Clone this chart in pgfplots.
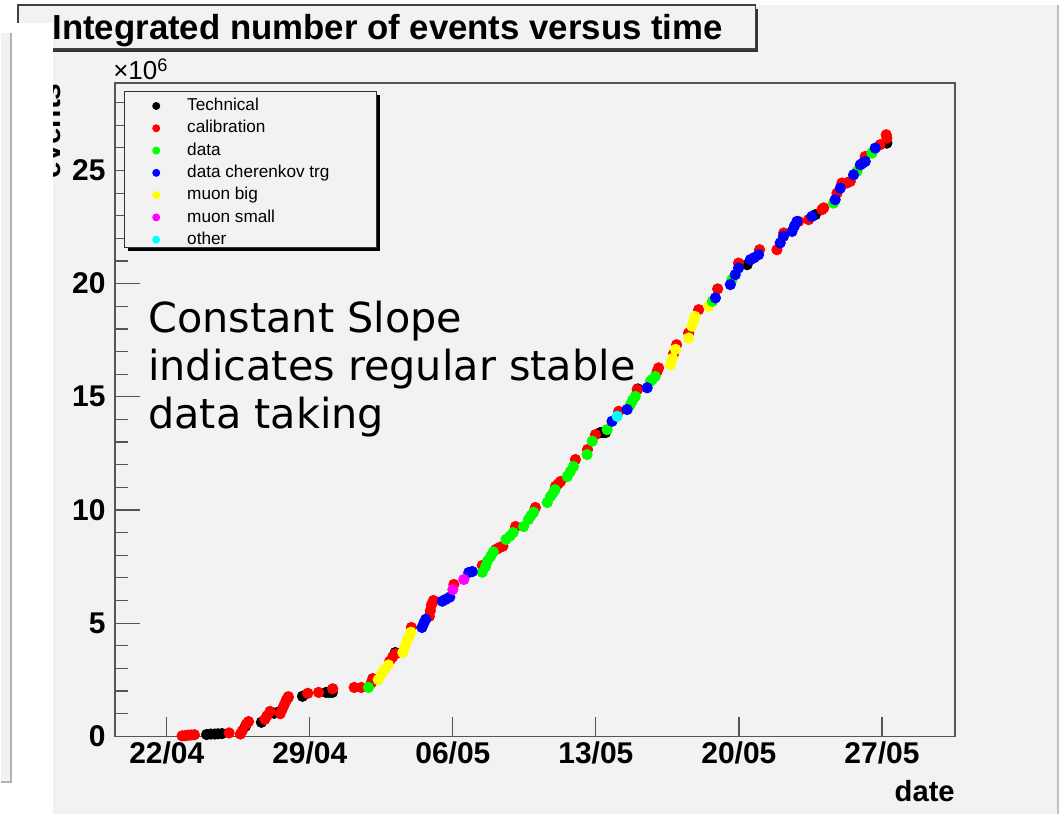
\documentclass[border=0pt]{standalone}
\usepackage{fontspec}
\setmainfont{Liberation Sans}
\newfontfamily\dejavu{DejaVu Sans}
\usepackage{pgfplots}
\pgfplotsset{compat=1.18}

\definecolor{canvas}{RGB}{242,242,242}
\definecolor{framegray}{RGB}{85,85,85}
\definecolor{rblack}{RGB}{0,0,0}
\definecolor{rred}{RGB}{255,0,0}
\definecolor{rgreen}{RGB}{0,255,0}
\definecolor{rblue}{RGB}{0,0,255}
\definecolor{ryellow}{RGB}{255,255,0}
\definecolor{rmagenta}{RGB}{255,0,255}
\definecolor{rcyan}{RGB}{0,255,255}

% x = days after 22/04, y = integrated events (x 10^6)
\pgfplotstableread{
d v
1.95 0.08
2.15 0.10
2.35 0.10
2.50 0.11
2.70 0.12
3.85 0.45
4.63 0.62
5.25 1.02
5.40 1.05
5.94 1.72
6.64 1.77
7.80 1.94
7.95 1.94
8.10 1.94
11.18 3.70
21.22 13.42
21.35 13.42
21.47 13.42
23.05 15.35
28.40 20.84
31.74 23.05
35.24 26.21
}\technical

\pgfplotstableread{
d v
0.75 0.02
0.90 0.03
1.05 0.05
1.20 0.06
1.35 0.07
3.05 0.15
3.60 0.10
3.70 0.25
3.90 0.55
4.00 0.65
4.80 0.75
4.90 0.90
5.05 1.10
5.55 1.00
5.65 1.20
5.75 1.40
5.85 1.60
5.95 1.75
6.90 1.90
7.43 1.94
8.12 2.10
9.17 2.16
9.52 2.16
10.00 2.35
10.08 2.55
10.90 3.30
11.05 3.50
11.20 3.65
11.97 4.81
12.85 5.30
12.90 5.55
12.95 5.80
13.05 6.00
14.05 6.71
15.44 7.55
16.10 8.25
16.20 8.30
16.30 8.35
16.45 8.40
17.07 9.27
18.04 10.11
19.02 11.04
19.15 11.15
19.27 11.26
20.00 12.23
20.59 12.67
20.98 13.33
22.12 14.36
23.02 15.32
24.00 16.13
24.07 16.28
24.80 16.90
24.95 17.30
25.54 17.82
26.03 18.85
26.96 19.77
27.98 20.91
29.01 21.50
29.86 21.50
30.19 22.24
30.92 22.75
31.41 22.83
32.06 23.27
32.15 23.35
32.80 24.00
33.04 24.45
33.29 24.45
33.45 24.52
34.18 25.62
34.91 26.14
35.21 26.58
35.24 26.43
}\calibration

\pgfplotstableread{
d v
9.87 2.16
15.44 7.25
15.60 7.50
15.70 7.75
15.85 7.95
15.98 8.15
16.60 8.70
16.80 8.85
16.95 9.00
17.46 9.27
17.70 9.58
17.82 9.75
17.95 9.90
18.62 10.33
18.78 10.60
18.90 10.75
19.00 10.90
19.60 11.48
19.75 11.70
19.90 11.92
20.57 12.45
20.82 13.04
21.55 13.55
22.69 14.66
22.80 14.85
22.93 15.02
23.67 15.69
23.75 15.76
23.90 15.90
26.70 19.22
27.66 20.18
32.63 23.56
33.78 24.96
34.51 25.77
}\physdata

\pgfplotstableread{
d v
12.49 4.81
12.58 5.00
12.67 5.17
13.48 5.97
13.65 6.05
13.85 6.15
14.78 7.24
14.95 7.28
21.79 13.92
22.53 14.44
23.51 15.40
26.85 19.37
27.58 19.96
27.82 20.40
27.98 20.69
28.56 21.06
28.75 21.15
28.96 21.28
30.02 21.80
30.18 22.09
30.60 22.31
30.72 22.55
30.84 22.75
31.57 22.97
32.71 23.71
32.96 24.22
33.61 24.81
33.94 25.25
34.06 25.33
34.18 25.40
34.67 25.99
}\cherenkov

\pgfplotstableread{
d v
10.35 2.50
10.50 2.75
10.65 2.95
10.85 3.15
11.55 3.70
11.65 3.95
11.75 4.20
11.85 4.40
11.95 4.60
24.65 16.42
24.75 16.70
24.90 17.10
25.54 17.60
25.70 18.12
25.78 18.35
25.85 18.55
26.52 19.00
}\muonbig

\pgfplotstableread{
d v
14.00 6.49
14.54 6.93
}\muonsmall

\pgfplotstableread{
d v
22.04 14.14
}\other

\pgfplotsset{
  roothist/.style={
    at={(57pt,-368.5pt)}, anchor=south west,
    scale only axis, width=420.5pt, height=327pt,
    xmin=-2.54, xmax=38.58, ymin=0, ymax=28.87,
  },
  evt/.style={only marks, mark=*, mark size=2.6pt, #1},
  dotleg/.style={color=#1,
    legend image code/.code={%
      \fill[#1, draw=none] (0pt,0pt) circle (2pt);
      \path[draw=none, fill=none] (-8pt,0pt) -- (8pt,0pt);}},
}

\begin{document}
\begin{tikzpicture}
\begin{scope}[x=0.5pt,y=-0.5pt]
  \useasboundingbox (0,0) rectangle (1060,815);
  \fill[white] (0,0) rectangle (1060,815);
  \fill[canvas] (17,5) rectangle (1058,815);
  \draw[black!25, line width=0.8pt] (1058,5) -- (1058,815);
  % title box
  \fill[black!80] (21,9) rectangle (758,52);
  \filldraw[fill=canvas, draw=black!75, line width=0.6pt] (17,5) rectangle (755,49);
  \node[anchor=base, inner sep=0pt, font=\bfseries\fontsize{17.4}{17.4}\selectfont]
    at (387,40) {Integrated number of events versus time};
  \node[rotate=90, anchor=base east, inner sep=0pt, font=\bfseries\fontsize{15}{15}\selectfont]
    at (60,83) {events};
  \node[anchor=base west, inner sep=0pt, font=\fontsize{13}{13}\selectfont]
    at (112,80) {×10\textsuperscript{6}};
  \node[anchor=base east, inner sep=0pt, font=\bfseries\fontsize{14.6}{14.6}\selectfont]
    at (955,802) {date};
\end{scope}

\begin{axis}[
  roothist,
  xtick={0,7,14,21,28,35},
  xticklabels={22/04,29/04,06/05,13/05,20/05,27/05},
  ytick={0,5,10,15,20,25},
  yticklabels={0,5,10,15,20,25},
  minor ytick={1,2,3,4,6,7,8,9,11,12,13,14,16,17,18,19,21,22,23,24,26,27,28},
  tick align=inside, xtick pos=left, ytick pos=left,
  major tick length=12.5pt, minor tick length=6.5pt,
  xtick style={/pgfplots/major tick length=9.5pt},
  tick style={framegray, line width=0.6pt},
  axis line style={framegray, line width=0.8pt},
  ticklabel style={font=\bfseries\fontsize{15}{15}\selectfont, inner sep=0pt},
  xticklabel style={yshift=-2.5pt},
  yticklabel style={xshift=-4.5pt},
]
\addplot[evt=rblack] table {\technical};
\addplot[evt=rred] table {\calibration};
\addplot[evt=ryellow] table {\muonbig};
\addplot[evt=rgreen] table {\physdata};
\addplot[evt=rblue] table {\cherenkov};
\addplot[evt=rmagenta] table {\muonsmall};
\addplot[evt=rcyan] table {\other};
\end{axis}

\begin{scope}[x=0.5pt,y=-0.5pt]
  % legend box with shadow
  \fill[black] (127,95) rectangle (379,251);
  \filldraw[fill=canvas, draw=black!80, line width=0.5pt] (124,92) rectangle (376,248);
\end{scope}

\begin{axis}[
  roothist, hide axis,
  legend cell align=left,
  legend style={at={(0.0297,0.978)}, anchor=north west, draw=none, fill=none,
    inner sep=0pt, row sep=2.85pt, column sep=7.5pt,
    font=\fontsize{8.6}{10}\selectfont,
    nodes={inner sep=0pt, text height=6.5pt, text depth=1.8pt}},
]
\addlegendimage{dotleg=rblack}
\addlegendentry{Technical}
\addlegendimage{dotleg=rred}
\addlegendentry{calibration}
\addlegendimage{dotleg=rgreen}
\addlegendentry{data}
\addlegendimage{dotleg=rblue}
\addlegendentry{data cherenkov trg}
\addlegendimage{dotleg=ryellow}
\addlegendentry{muon big}
\addlegendimage{dotleg=rmagenta}
\addlegendentry{muon small}
\addlegendimage{dotleg=rcyan}
\addlegendentry{other}
\end{axis}

\begin{scope}[x=0.5pt,y=-0.5pt]
  \node[anchor=north west, inner sep=0pt, align=left, font=\dejavu\fontsize{20.7}{24}\selectfont]
    at (147,301) {Constant Slope\\indicates regular stable\\data taking};
  % white panel covering the left edge
  \fill[white] (0,23) rectangle (52,815);
  \fill[canvas] (0,33) rectangle (10,783);
  \draw[black!30, line width=1pt] (10,33) -- (10,783) -- (0,783);
\end{scope}
\end{tikzpicture}
\end{document}
